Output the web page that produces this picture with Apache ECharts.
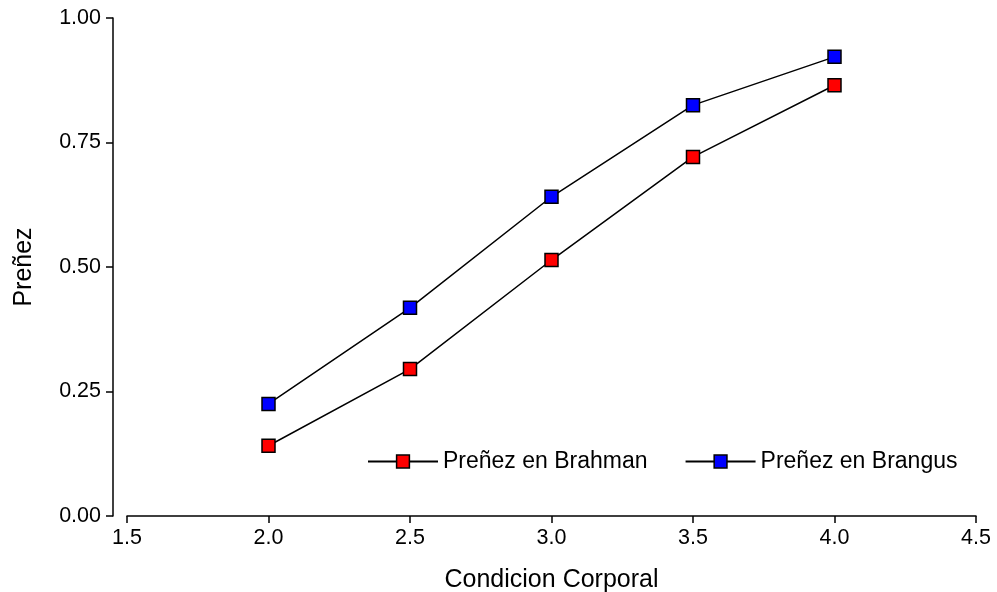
<!DOCTYPE html>
<html><head><meta charset="utf-8">
<script src="https://cdn.jsdelivr.net/npm/echarts@6/dist/echarts.min.js"></script>
<style>html,body{margin:0;padding:0;background:#fff}#c{width:997px;height:592px}</style>
</head><body><div id="c"></div>
<script>
const condicion = [2.0, 2.5, 3.0, 3.5, 4.0];
const brahman = [0.141, 0.295, 0.514, 0.721, 0.865];
const brangus = [0.225, 0.418, 0.641, 0.825, 0.922];
const seriesNames = ['Preñez en Brahman', 'Preñez en Brangus'];
const xTitle = 'Condicion Corporal';
const yTitle = 'Preñez';

const chart = echarts.init(document.getElementById('c'));
const font = 'Liberation Sans, Arial, sans-serif';
function mk(name, vals, color) {
  return {
    name, type: 'line', data: condicion.map((x, i) => [x, vals[i]]),
    symbol: 'rect', symbolSize: 13,
    itemStyle: { color: color, borderColor: '#000', borderWidth: 1.5 },
    lineStyle: { color: '#000', width: 1.5 },
    emphasis: { disabled: true }, z: 3
  };
}
chart.setOption({
  animation: false,
  textStyle: { fontFamily: font },
  grid: { left: 127, right: 21, top: 18, bottom: 76, containLabel: false, outerBoundsMode: 'none' },
  legend: {
    data: seriesNames, left: 362, top: 445, itemWidth: 70, itemHeight: 16, itemGap: 37,
    textStyle: { fontSize: 23, color: '#000', fontFamily: font },
    itemStyle: { borderColor: '#000', borderWidth: 1.5 }
  },
  xAxis: {
    type: 'value', min: 1.5, max: 4.5, interval: 0.5, offset: 0,
    name: xTitle, nameLocation: 'middle', nameGap: 52,
    nameTextStyle: { fontSize: 25, color: '#000' },
    axisLine: { show: true, lineStyle: { color: '#000', width: 1.5 } },
    axisTick: { show: true, length: 7, lineStyle: { color: '#000', width: 1.5 } },
    axisLabel: { fontSize: 21.5, color: '#000', margin: 11, formatter: v => v.toFixed(1) },
    splitLine: { show: false }
  },
  yAxis: {
    type: 'value', min: 0, max: 1, interval: 0.25, offset: 14,
    name: yTitle, nameLocation: 'middle', nameGap: 76, nameRotate: 90,
    nameTextStyle: { fontSize: 25, color: '#000' },
    axisLine: { show: true, lineStyle: { color: '#000', width: 1.5 } },
    axisTick: { show: true, length: 7, lineStyle: { color: '#000', width: 1.5 } },
    axisLabel: { fontSize: 21.5, color: '#000', margin: 12, formatter: v => v.toFixed(2) },
    splitLine: { show: false }
  },
  series: [mk(seriesNames[0], brahman, '#ff0000'), mk(seriesNames[1], brangus, '#0000ff')]
});
</script></body></html>
